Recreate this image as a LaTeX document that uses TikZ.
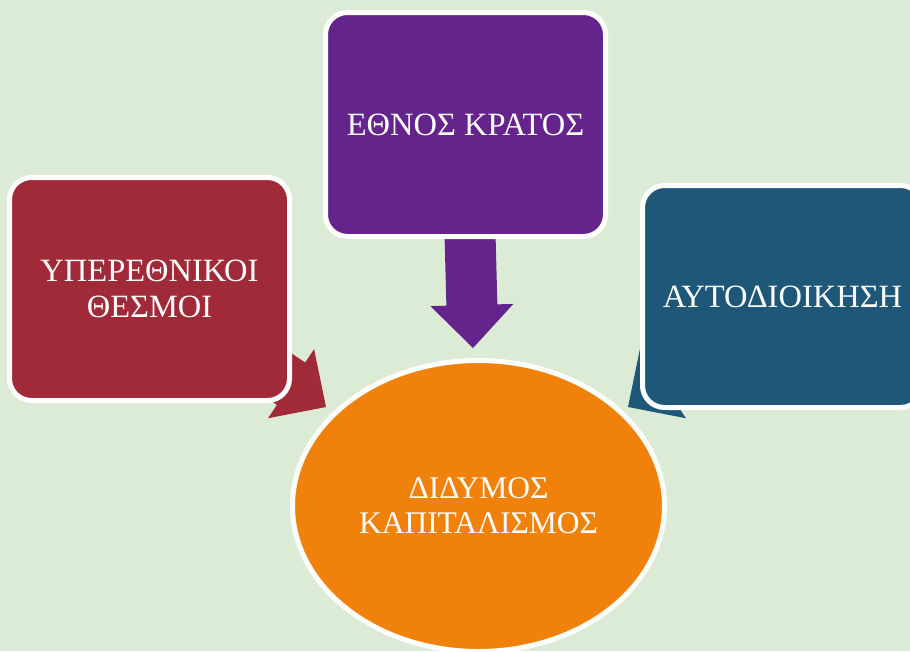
\documentclass[tikz,border=0pt]{standalone}
\usepackage{fontspec}
\setmainfont{Liberation Serif}
\definecolor{bgc}{HTML}{DBEBD6}
\definecolor{redc}{HTML}{A12A38}
\definecolor{purc}{HTML}{65238C}
\definecolor{bluc}{HTML}{1E5778}
\definecolor{orac}{HTML}{F0820B}
\tikzset{
  box/.style={draw=white, line width=5pt, rounded corners=22pt, minimum width=280pt, minimum height=223pt, text=white, align=center, font=\fontsize{32.5}{36}\selectfont, inner sep=0pt},
  oval/.style={ellipse, draw=white, line width=5pt, minimum width=372pt, minimum height=291pt, fill=orac, text=white, align=center, font=\fontsize{31.5}{35}\selectfont, inner sep=0pt},
  blockarrow/.style={fill=#1, draw=none}
}
\usetikzlibrary{shapes.geometric}
\begin{document}
\begin{tikzpicture}[x=1pt,y=-1pt]
\fill[bgc] (0,0) rectangle (910,651);
\useasboundingbox (0,0) rectangle (910,651);
% arrow tips (named coordinates)
\coordinate (tipL) at (326,407);
\coordinate (tipM) at (473,348);
\coordinate (tipR) at (628,407);
% block arrows (behind boxes): local frame, tip at origin, pointing along +x
\begin{scope}[shift={(tipM)}, rotate=-88.5]
  \fill[blockarrow=purc] (0,0) -- (-43,41.5) -- (-43,25.5) -- (-120,25.5) -- (-120,-25.5) -- (-43,-25.5) -- (-43,-41.5) -- cycle;
\end{scope}
\begin{scope}[shift={(tipL)}, rotate=-33.7]
  \fill[blockarrow=redc] (0,0) -- (-42,41.5) -- (-42,25.5) -- (-190,25.5) -- (-190,-25.5) -- (-42,-25.5) -- (-42,-41.5) -- cycle;
\end{scope}
\begin{scope}[shift={(tipR)}, rotate=-146.3]
  \fill[blockarrow=bluc] (0,0) -- (-42,41.5) -- (-42,25.5) -- (-190,25.5) -- (-190,-25.5) -- (-42,-25.5) -- (-42,-41.5) -- cycle;
\end{scope}
% boxes
\node[box, fill=redc] (yp) at (149.5,289) {ΥΠΕΡΕΘΝΙΚΟΙ\\ΘΕΣΜΟΙ};
\node[box, fill=purc, minimum height=224pt] (ek) at (465.5,124.5) {ΕΘΝΟΣ ΚΡΑΤΟΣ};
\node[box, fill=bluc, minimum height=222pt] (au) at (782.5,296.5) {ΑΥΤΟΔΙΟΙΚΗΣΗ};
% centre ellipse
\node[oval] (dk) at (478.5,506) {ΔΙΔΥΜΟΣ\\ΚΑΠΙΤΑΛΙΣΜΟΣ};
\end{tikzpicture}
\end{document}
